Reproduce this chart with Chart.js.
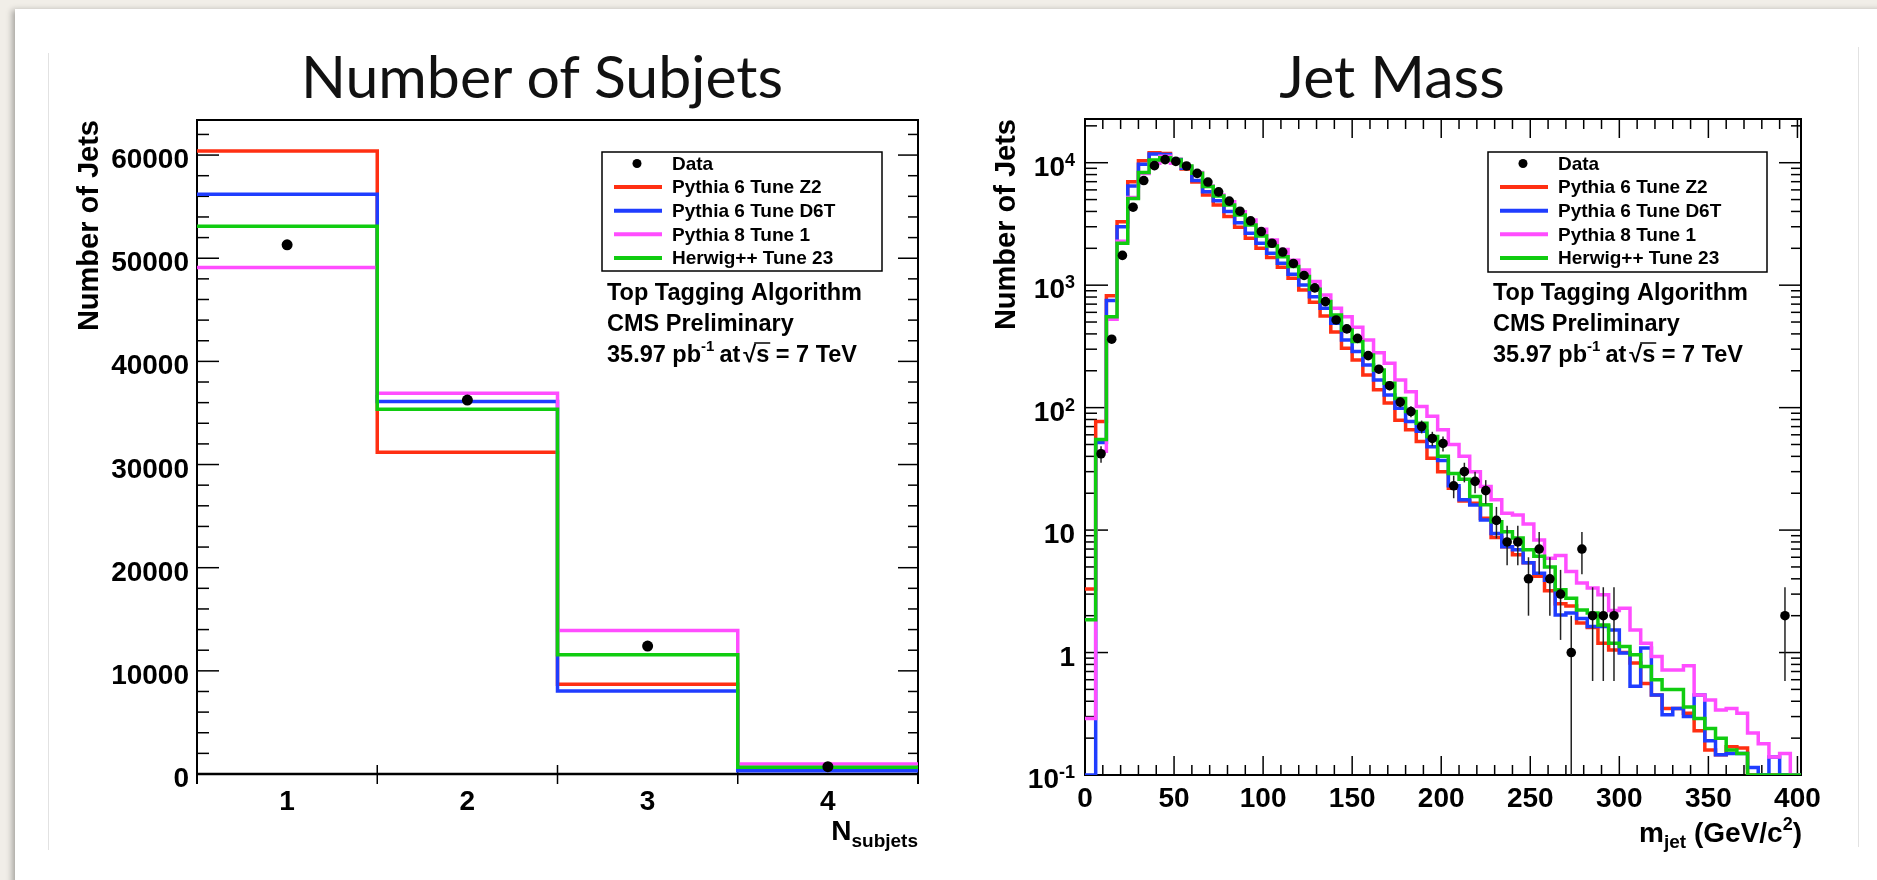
<!DOCTYPE html>
<html>
<head>
<meta charset="utf-8">
<title>Number of Subjets / Jet Mass</title>
<script src="https://cdn.jsdelivr.net/npm/chart.js@4.4.1/dist/chart.umd.min.js"></script>
<style>
  html, body { margin: 0; padding: 0; }
  body { width: 1877px; height: 880px; position: relative; overflow: hidden; background: #f1eee8; }
  #card { position: absolute; left: 15px; top: 9px; width: 1900px; height: 900px; background: #fff; box-shadow: -3px 1px 6px rgba(0,0,0,0.3); }
  .edge { position: absolute; width: 1px; background: #e2e2e2; }
  .title { position: absolute; top: 46px; font-family: Lato, "Open Sans", sans-serif; font-size: 59px; line-height: 1; color: #111; white-space: nowrap; transform: translateX(-50%); }
  canvas { position: absolute; top: 0; }
</style>
</head>
<body>
<div id="card"></div>
<div class="edge" style="left:48px; top:53px; height:797px;"></div>
<div class="edge" style="left:1858px; top:47px; height:800px;"></div>
<div class="title" style="left:542px;">Number of Subjets</div>
<div class="title" style="left:1392px;">Jet Mass</div>
<canvas id="subjets" width="940" height="880" style="left:0"></canvas>
<canvas id="mass" width="937" height="880" style="left:940px"></canvas>
<script>
// Number of subjets, one bin per count
const subjetBins = [1, 2, 3, 4];
const subjetEdges = [0.5, 1.5, 2.5, 3.5, 4.5];
const subjetData   = [51300, 36250, 12400, 710];
const subjetZ2     = [60400, 31200, 8700, 480];
const subjetD6T    = [56200, 36100, 8050, 320];
const subjetP8     = [49100, 36900, 13900, 970];
const subjetHerwig = [53100, 35350, 11550, 650];
const subjetYTicks = [0, 10000, 20000, 30000, 40000, 50000, 60000];
const subjetYMinor = 2000;

// Jet mass, 6 GeV bins from 0 to 402
const massBinWidth = 6;
const massData = [0, 42, 362, 1750, 4330, 7150, 9460, 10600, 10250, 9400,
  8190, 6950, 5780, 4860, 4020, 3350, 2740, 2200, 1865, 1505,
  1200, 950, 734, 520, 440, 368, 266, 206, 151, 111,
  93, 70, 56, 51, 23, 30, 25, 21, 12, 8,
  8, 4, 7, 4, 3, 1, 7, 2, 2, 2,
  0, 0, 0, 0, 0, 0, 0, 0, 0, 0,
  0, 0, 0, 0, 0, 2, 0];
const massZ2 = [3.3, 77, 820, 3300, 7000, 10400, 12080, 11900, 10600, 8900,
  6950, 5450, 4520, 3630, 2970, 2415, 2000, 1680, 1400, 1140,
  914, 725, 560, 415, 305, 245, 185, 140, 109, 79,
  66, 53, 38.6, 30, 22, 17.3, 16.6, 12.5, 8.7, 7.3,
  6.3, 5.4, 4.2, 3.2, 2.5, 2.4, 1.74, 1.6, 1.19, 1.05,
  1.0, 0.82, 0.56, 0.45, 0.35, 0.35, 0.32, 0.23, 0.16, 0.146,
  0.17, 0.166, 0, 0, 0, 0, 0];
const massD6T = [0, 52, 748, 3000, 6450, 9700, 11780, 11650, 10600, 9000,
  7150, 5800, 4900, 3990, 3230, 2650, 2200, 1820, 1510, 1230,
  1004, 806, 647, 488, 357, 287, 223, 168, 127, 99,
  77, 64, 48, 37, 23, 17.7, 16, 12.1, 9.4, 7.3,
  6.9, 5.4, 4.45, 3.9, 2.03, 2.1, 1.9, 1.63, 1.63, 1.53,
  0.99, 0.53, 1.09, 0.45, 0.31, 0.35, 0.30, 0.45, 0.19, 0.146,
  0.15, 0.15, 0.115, 0, 0.14, 0, 0];
const massP8 = [0.29, 44, 526, 2280, 5200, 8150, 9900, 11300, 9900, 9300,
  8300, 6450, 5450, 4810, 3980, 3400, 2860, 2340, 1960, 1600,
  1330, 1070, 832, 647, 553, 453, 357, 281, 230, 168,
  135, 102, 85, 66, 50, 40, 30, 22.7, 17.7, 13.7,
  13.3, 11.2, 8.3, 5.9, 6.2, 4.6, 3.7, 3.36, 2.96, 2.2,
  2.3, 1.53, 1.19, 0.93, 0.72, 0.72, 0.78, 0.45, 0.41, 0.34,
  0.35, 0.32, 0.22, 0.18, 0.14, 0.15, 0];
const massHerwig = [1.85, 55, 553, 2200, 5110, 8300, 10520, 11000, 10500, 9400,
  8200, 6400, 5350, 4520, 3740, 3100, 2520, 2090, 1710, 1420,
  1175, 925, 734, 571, 431, 346, 269, 203, 158, 119,
  93, 74.5, 58, 40, 29, 26, 18.8, 16.1, 11.7, 9.7,
  8.6, 6.9, 6.1, 5.0, 3.25, 2.78, 2.23, 2.1, 1.68, 1.19,
  1.12, 0.96, 0.77, 0.6, 0.5, 0.5, 0.36, 0.29, 0.24, 0.2,
  0.16, 0.15, 0, 0, 0, 0, 0];
const massXTicks = [0, 50, 100, 150, 200, 250, 300, 350, 400];
const massXMinor = 10;
const massYTicks = [0.1, 1, 10, 100, 1000, 10000];
const massYLabels = [['10', '-1'], ['1', ''], ['10', ''], ['10', '2'], ['10', '3'], ['10', '4']];

const legendNames = ['Data', 'Pythia 6 Tune Z2', 'Pythia 6 Tune D6T', 'Pythia 8 Tune 1', 'Herwig++ Tune 23'];
const mcColors = ['#ff2f12', '#1f3dff', '#ff4dff', '#10cc10'];

const FONT = '"Liberation Sans", Arial, Helvetica, sans-serif';
const bold = s => 'bold ' + s + 'px ' + FONT;

function seg(ctx, x1, y1, x2, y2) {
  ctx.beginPath(); ctx.moveTo(x1, y1); ctx.lineTo(x2, y2); ctx.stroke();
}

// draws pieces of text with their own size / vertical shift, returns start x of each piece
function runs(ctx, list, x, baseline, alignRight) {
  let w = 0;
  list.forEach(r => { ctx.font = bold(r.s); r.w = ctx.measureText(r.t).width + (r.gap || 0); w += r.w; });
  let cx = alignRight ? x - w : x;
  const starts = [];
  ctx.textAlign = 'left'; ctx.textBaseline = 'alphabetic';
  list.forEach(r => {
    ctx.font = bold(r.s);
    starts.push(cx);
    ctx.fillText(r.t, cx, baseline + (r.dy || 0));
    cx += r.w;
  });
  starts.push(cx);
  return starts;
}

function yTitle(ctx, text, x, top) {
  ctx.save();
  ctx.translate(x, top); ctx.rotate(-Math.PI / 2);
  ctx.font = bold(29); ctx.textAlign = 'right'; ctx.textBaseline = 'alphabetic';
  ctx.fillText(text, 0, 0);
  ctx.restore();
}

function drawLegend(chart, bx, by, bw, bh) {
  const ctx = chart.ctx;
  ctx.save();
  ctx.fillStyle = '#fff'; ctx.fillRect(bx, by, bw, bh);
  ctx.strokeStyle = '#000'; ctx.lineWidth = 1.5; ctx.strokeRect(bx, by, bw, bh);
  ctx.font = bold(19); ctx.textBaseline = 'middle'; ctx.textAlign = 'left';
  chart.data.datasets.forEach((ds, i) => {
    const ry = by + 11.5 + 23.6 * i;
    if (i === 0) {
      ctx.fillStyle = '#000';
      ctx.beginPath(); ctx.arc(bx + 35, ry, 4.5, 0, Math.PI * 2); ctx.fill();
    } else {
      ctx.strokeStyle = ds.borderColor; ctx.lineWidth = 4;
      seg(ctx, bx + 12, ry, bx + 60, ry);
    }
    ctx.fillStyle = '#000';
    ctx.fillText(ds.label, bx + 70, ry + 1);
  });
  ctx.restore();
}

function drawInfo(ctx, x) {
  ctx.save();
  ctx.fillStyle = '#000'; ctx.strokeStyle = '#000';
  ctx.font = bold(23.5); ctx.textAlign = 'left'; ctx.textBaseline = 'alphabetic';
  ctx.fillText('Top Tagging Algorithm', x, 300);
  ctx.fillText('CMS Preliminary', x, 331);
  const st = runs(ctx, [
    { t: '35.97 pb', s: 23.5 }, { t: '-1', s: 15, dy: -11, gap: 5 }, { t: 'at', s: 23.5, gap: 3 },
    { t: '\u221A', s: 23.5 }, { t: 's', s: 23.5 }, { t: ' = 7 TeV', s: 23.5 }
  ], x, 362, false);
  ctx.lineWidth = 1.5;
  seg(ctx, st[4] - 2, 343, st[5] + 1, 343);
  ctx.restore();
}

function histPoints(edges, values, floor) {
  const pts = [];
  values.forEach((v, i) => {
    const y = v > 0 ? v : floor;
    pts.push({ x: edges[i], y: y }, { x: edges[i + 1], y: y });
  });
  return pts;
}

function buildDatasets(edges, data, mcs, floor, dotRadius) {
  const centers = data.map((_, i) => (edges[i] + edges[i + 1]) / 2);
  const sets = [{
    label: legendNames[0],
    data: data.map((v, i) => ({ x: centers[i], y: v > 0 ? v : null })),
    showLine: false, pointRadius: dotRadius, pointHoverRadius: dotRadius,
    pointBackgroundColor: '#000', pointBorderWidth: 0, order: 0
  }];
  mcs.forEach((vals, j) => sets.push({
    label: legendNames[j + 1],
    data: histPoints(edges, vals, floor),
    borderColor: mcColors[j], borderWidth: 3.5, pointRadius: 0, fill: false, tension: 0,
    borderJoinStyle: 'miter', borderCapStyle: 'butt', order: 4 - j
  }));
  return sets;
}

// sqrt(N) error bars under the data markers
const errorBars = {
  id: 'errorBars',
  beforeDatasetDraw(chart, args) {
    if (args.index !== 0) return;
    const { ctx, chartArea: a, scales: { x, y } } = chart;
    ctx.save();
    ctx.beginPath(); ctx.rect(a.left, a.top, a.right - a.left, a.bottom - a.top); ctx.clip();
    ctx.strokeStyle = '#222'; ctx.lineWidth = 1.5;
    chart.data.datasets[0].data.forEach(p => {
      if (p.y == null) return;
      const e = Math.sqrt(p.y);
      const px = x.getPixelForValue(p.x);
      const lo = p.y - e > 0 ? y.getPixelForValue(p.y - e) : a.bottom;
      seg(ctx, px, lo, px, y.getPixelForValue(p.y + e));
    });
    ctx.restore();
  }
};

const subjetDecor = {
  id: 'subjetDecor',
  beforeDatasetsDraw(chart) {
    const { ctx, chartArea: a, scales: { x, y } } = chart;
    ctx.save();
    ctx.strokeStyle = '#000'; ctx.fillStyle = '#000'; ctx.lineWidth = 2;
    ctx.beginPath();
    ctx.moveTo(a.left, a.bottom + 10); ctx.lineTo(a.left, a.top);
    ctx.lineTo(a.right, a.top); ctx.lineTo(a.right, a.bottom + 10);
    ctx.stroke();
    ctx.lineWidth = 2.5; seg(ctx, a.left, a.bottom, a.right, a.bottom);
    ctx.lineWidth = 1.5;
    for (let v = 0; v < y.max; v += subjetYMinor) {
      const py = y.getPixelForValue(v);
      const len = subjetYTicks.includes(v) ? 22 : 12;
      seg(ctx, a.left, py, a.left + len, py);
      seg(ctx, a.right, py, a.right - len + 2, py);
    }
    subjetEdges.slice(1, -1).forEach(e => {
      const px = x.getPixelForValue(e);
      seg(ctx, px, a.bottom - 9, px, a.bottom + 10);
    });
    ctx.font = bold(28); ctx.textAlign = 'right'; ctx.textBaseline = 'alphabetic';
    subjetYTicks.forEach(v => ctx.fillText(String(v), a.left - 8, y.getPixelForValue(v) + 13));
    ctx.textAlign = 'center';
    subjetBins.forEach(b => ctx.fillText(String(b), x.getPixelForValue(b), a.bottom + 36));
    yTitle(ctx, 'Number of Jets', 98, a.top);
    runs(ctx, [{ t: 'N', s: 28 }, { t: 'subjets', s: 19, dy: 7 }], a.right, 840, true);
    ctx.restore();
  },
  afterDatasetsDraw(chart) {
    drawLegend(chart, 602, 152, 280, 119);
    drawInfo(chart.ctx, 607);
  }
};

const massDecor = {
  id: 'massDecor',
  beforeDatasetsDraw(chart) {
    const { ctx, chartArea: a, scales: { x, y } } = chart;
    ctx.save();
    ctx.strokeStyle = '#000'; ctx.fillStyle = '#000'; ctx.lineWidth = 2;
    ctx.strokeRect(a.left, a.top, a.right - a.left, a.bottom - a.top);
    ctx.lineWidth = 1.5;
    massYTicks.forEach(d => {
      const py = y.getPixelForValue(d);
      seg(ctx, a.left, py, a.left + 23, py);
      seg(ctx, a.right, py, a.right - 22, py);
      for (let m = 2; m <= 9; m++) {
        if (m * d >= y.max) break;
        const q = y.getPixelForValue(m * d);
        seg(ctx, a.left, q, a.left + 12, q);
        seg(ctx, a.right, q, a.right - 10, q);
      }
    });
    for (let v = 0; v <= x.max; v += massXMinor) {
      const px = x.getPixelForValue(v);
      const len = massXTicks.includes(v) ? 19 : 10;
      seg(ctx, px, a.bottom, px, a.bottom - len);
      seg(ctx, px, a.top, px, a.top + len);
    }
    massYTicks.forEach((d, i) => {
      const [b, e] = massYLabels[i];
      runs(ctx, [{ t: b, s: 28 }, { t: e, s: 18, dy: -10 }], a.left - 10, y.getPixelForValue(d) + 13, true);
    });
    ctx.font = bold(28); ctx.textAlign = 'center'; ctx.textBaseline = 'alphabetic';
    massXTicks.forEach(v => ctx.fillText(String(v), x.getPixelForValue(v), a.bottom + 32));
    yTitle(ctx, 'Number of Jets', 75, a.top);
    runs(ctx, [{ t: 'm', s: 28 }, { t: 'jet', s: 19, dy: 6 }, { t: ' (GeV/c', s: 28 },
      { t: '2', s: 18, dy: -12 }, { t: ')', s: 28 }], a.right + 1, 842, true);
    ctx.restore();
  },
  afterDatasetsDraw(chart) {
    drawLegend(chart, 548, 152, 279, 120);
    drawInfo(chart.ctx, 553);
  }
};

const baseOptions = (padding, xs, ys) => ({
  responsive: false, animation: false, devicePixelRatio: 1,
  layout: { padding: padding },
  scales: { x: xs, y: ys },
  plugins: { legend: { display: false }, tooltip: { enabled: false } },
  events: []
});

new Chart(document.getElementById('subjets'), {
  type: 'line',
  data: { datasets: buildDatasets(subjetEdges, subjetData, [subjetZ2, subjetD6T, subjetP8, subjetHerwig], 0, 5.5) },
  options: baseOptions({ left: 197, top: 120, right: 22, bottom: 106 },
    { type: 'linear', min: 0.5, max: 4.5, display: false },
    { type: 'linear', min: 0, max: 63400, display: false }),
  plugins: [subjetDecor, errorBars]
});

const massEdges = massData.map((_, i) => i * massBinWidth).concat(massData.length * massBinWidth);
new Chart(document.getElementById('mass'), {
  type: 'line',
  data: { datasets: buildDatasets(massEdges, massData, [massZ2, massD6T, massP8, massHerwig], 0.1, 4.8) },
  options: baseOptions({ left: 145, top: 119, right: 76, bottom: 105 },
    { type: 'linear', min: 0, max: 402, display: false },
    { type: 'logarithmic', min: 0.1, max: 22750, display: false }),
  plugins: [massDecor, errorBars]
});
</script>
</body>
</html>
